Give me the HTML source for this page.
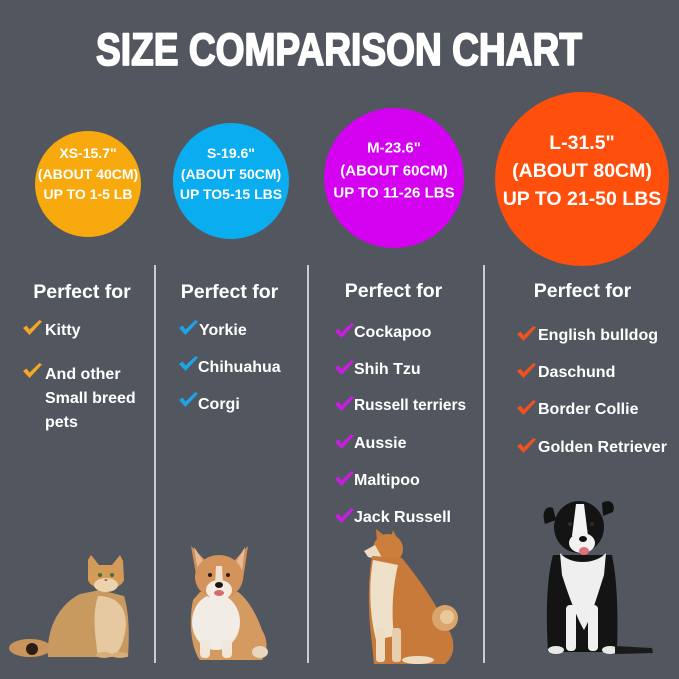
<!DOCTYPE html>
<html>
<head>
<meta charset="utf-8">
<style>
  html,body{margin:0;padding:0;background:#52575f;}
  svg{display:block;}
  text{font-family:"Liberation Sans",Arial,sans-serif;}
</style>
</head>
<body>
<svg width="679" height="679" viewBox="0 0 679 679" xmlns="http://www.w3.org/2000/svg">
  <defs>
    <path id="chk" d="M0,8 L3.5,5.5 L6.5,9.5 L16.5,0 L19,1.5 L6.5,15 Z"/>
  </defs>
  <rect width="679" height="679" fill="#52575f"/>

  <!-- Title -->
  <text x="96" y="65" font-size="45" font-weight="bold" fill="#ffffff" stroke="#ffffff" stroke-width="1.8" stroke-linejoin="round" textLength="486" lengthAdjust="spacingAndGlyphs">SIZE COMPARISON CHART</text>

  <!-- Circles -->
  <circle cx="88" cy="184" r="53" fill="#f7a90e"/>
  <circle cx="231" cy="181" r="58" fill="#0badf1"/>
  <circle cx="394" cy="178" r="70" fill="#d402f0"/>
  <circle cx="582" cy="179" r="87" fill="#fe4f0d"/>

  <g fill="#ffffff" font-weight="bold" text-anchor="middle">
    <text x="88" y="158" font-size="14">XS-15.7"</text>
    <text x="88" y="179" font-size="14">(ABOUT 40CM)</text>
    <text x="88" y="199" font-size="14">UP TO 1-5 LB</text>

    <text x="231" y="158" font-size="14">S-19.6"</text>
    <text x="231" y="179" font-size="14">(ABOUT 50CM)</text>
    <text x="231" y="199" font-size="14">UP TO5-15 LBS</text>

    <text x="394" y="152.5" font-size="15">M-23.6"</text>
    <text x="394" y="175.5" font-size="15">(ABOUT 60CM)</text>
    <text x="394" y="197.5" font-size="15">UP TO 11-26 LBS</text>

    <text x="582" y="149" font-size="19.5">L-31.5"</text>
    <text x="582" y="177" font-size="19.5">(ABOUT 80CM)</text>
    <text x="582" y="205" font-size="19.5">UP TO 21-50 LBS</text>
  </g>

  <!-- Dividers -->
  <g stroke="#c9ccd1" stroke-width="2">
    <line x1="155" y1="265" x2="155" y2="663"/>
    <line x1="308" y1="265" x2="308" y2="663"/>
    <line x1="484" y1="265" x2="484" y2="663"/>
  </g>

  <!-- Headings -->
  <g fill="#ffffff" font-weight="bold" font-size="19.5" text-anchor="middle">
    <text x="82" y="298">Perfect for</text>
    <text x="229.5" y="298">Perfect for</text>
    <text x="393.5" y="297">Perfect for</text>
    <text x="582.5" y="297">Perfect for</text>
  </g>

  <!-- Column 1 -->
  <g fill="#f5a623">
    <use href="#chk" x="23" y="320"/>
    <use href="#chk" x="23" y="363"/>
  </g>
  <g fill="#ffffff" font-weight="bold" font-size="16">
    <text x="45" y="335">Kitty</text>
    <text x="45" y="379">And other</text>
    <text x="45" y="403">Small breed</text>
    <text x="45" y="427">pets</text>
  </g>

  <!-- Column 2 -->
  <g fill="#1ea3e6">
    <use href="#chk" x="179" y="320"/>
    <use href="#chk" x="179" y="356"/>
    <use href="#chk" x="179" y="392"/>
  </g>
  <g fill="#ffffff" font-weight="bold" font-size="16">
    <text x="199" y="335">Yorkie</text>
    <text x="198" y="372">Chihuahua</text>
    <text x="198" y="409">Corgi</text>
  </g>

  <!-- Column 3 -->
  <g fill="#c81de0">
    <use href="#chk" x="335" y="323"/>
    <use href="#chk" x="335" y="360"/>
    <use href="#chk" x="335" y="396"/>
    <use href="#chk" x="335" y="434"/>
    <use href="#chk" x="335" y="471"/>
    <use href="#chk" x="335" y="508"/>
  </g>
  <g fill="#ffffff" font-weight="bold" font-size="16">
    <text x="354" y="337">Cockapoo</text>
    <text x="354" y="374">Shih Tzu</text>
    <text x="354" y="410" textLength="112" lengthAdjust="spacingAndGlyphs">Russell terriers</text>
    <text x="354" y="448">Aussie</text>
    <text x="354" y="485">Maltipoo</text>
    <text x="354" y="522">Jack Russell</text>
  </g>

  <!-- Column 4 -->
  <g fill="#f0521f">
    <use href="#chk" x="517" y="326"/>
    <use href="#chk" x="517" y="363"/>
    <use href="#chk" x="517" y="400"/>
    <use href="#chk" x="517" y="438"/>
  </g>
  <g fill="#ffffff" font-weight="bold" font-size="16">
    <text x="538" y="340">English bulldog</text>
    <text x="538" y="377">Daschund</text>
    <text x="538" y="414">Border Collie</text>
    <text x="538" y="452">Golden Retriever</text>
  </g>

  <!-- Cat -->
  <g>
    <ellipse cx="30" cy="648" rx="21" ry="9" fill="#c9955c"/>
    <ellipse cx="32" cy="649" rx="6" ry="6" fill="#2a1d14"/>
    <path d="M48,657 C46,630 58,605 80,594 L100,590 L124,596 C130,615 129,640 128,657 Z" fill="#c99a60"/>
    <path d="M98,596 C115,596 126,605 126,625 C124,645 118,655 110,657 L98,657 C95,635 92,615 98,596 Z" fill="#e6c9a0"/>
    <path d="M88,560 L91,555 L99,565 L112,565 L120,555 L123,561 L124,580 C120,592 92,592 88,580 Z" fill="#d49a58"/>
    <ellipse cx="106" cy="585" rx="12" ry="7" fill="#ecd3ad"/>
    <ellipse cx="100" cy="575" rx="2.2" ry="2" fill="#4d6b3a"/>
    <ellipse cx="112" cy="575" rx="2.2" ry="2" fill="#4d6b3a"/>
    <ellipse cx="106" cy="580" rx="1.5" ry="1" fill="#a0685a"/>
    <ellipse cx="104" cy="655" rx="8" ry="3" fill="#d6ae7c"/>
    <ellipse cx="120" cy="655" rx="8" ry="3" fill="#d6ae7c"/>
  </g>

  <!-- Corgi -->
  <g>
    <path d="M191,546 L208,563 L197,580 Z" fill="#d08f55"/>
    <path d="M248,546 L232,563 L243,580 Z" fill="#d08f55"/>
    <path d="M194,547 L204,562 L198,572 Z" fill="#e8b994"/>
    <path d="M245,547 L236,562 L242,572 Z" fill="#e8b994"/>
    <path d="M193,600 C188,625 192,650 200,660 L262,660 C268,650 268,640 262,630 C255,610 246,598 238,592 L200,592 Z" fill="#d59a60"/>
    <ellipse cx="216" cy="622" rx="24" ry="28" fill="#f1ece5"/>
    <ellipse cx="219" cy="577" rx="24" ry="22" fill="#d4935a"/>
    <ellipse cx="219" cy="590" rx="13" ry="10" fill="#f3ece3"/>
    <path d="M216,566 L222,566 L223,585 L215,585 Z" fill="#f0e2d0"/>
    <ellipse cx="219" cy="585" rx="4" ry="3" fill="#1a1410"/>
    <ellipse cx="219" cy="593" rx="5" ry="3" fill="#d66a6e"/>
    <circle cx="210" cy="575" r="2" fill="#2a1b12"/>
    <circle cx="228" cy="575" r="2" fill="#2a1b12"/>
    <rect x="200" y="640" width="10" height="18" rx="4" fill="#f0e6da"/>
    <rect x="222" y="640" width="10" height="18" rx="4" fill="#f0e6da"/>
    <ellipse cx="260" cy="652" rx="8" ry="6" fill="#e9d6c0"/>
  </g>

  <!-- Shiba -->
  <g>
    <path d="M377,542 L376,529 L386,537 Z" fill="#c9793a"/>
    <path d="M390,540 L393,530 L400,544 Z" fill="#c9793a"/>
    <ellipse cx="388" cy="549" rx="15" ry="15" fill="#cc7e3c"/>
    <path d="M375,545 L364,551 L368,557 L384,561 Z" fill="#ecdcc3"/>
    <path d="M372,556 C368,580 368,610 371,635 L374,664 L445,664 C456,655 456,640 446,625 C434,600 418,578 402,558 Z" fill="#c87a3a"/>
    <path d="M373,560 C369,582 369,612 376,640 L394,636 C391,612 393,585 398,565 Z" fill="#efe1c9"/>
    <circle cx="445" cy="618" r="13" fill="#d9a56a"/>
    <circle cx="447" cy="617" r="7" fill="#e9c99a"/>
    <rect x="376" y="628" width="9" height="34" rx="3" fill="#eddcc2"/>
    <rect x="392" y="628" width="9" height="34" rx="3" fill="#e7cfae"/>
    <ellipse cx="418" cy="660" rx="16" ry="4" fill="#eedcc0"/>
  </g>

  <!-- Border collie -->
  <g>
    <path d="M553,508 C546,505 541,512 545,524 L556,520 Z" fill="#121212"/>
    <path d="M602,503 C610,498 616,504 613,512 L603,516 Z" fill="#121212"/>
    <ellipse cx="579" cy="527" rx="25" ry="26" fill="#141414"/>
    <path d="M576,504 L584,504 L588,536 L572,536 Z" fill="#f4f4f4"/>
    <ellipse cx="582" cy="543" rx="13" ry="10" fill="#f2f2f2"/>
    <ellipse cx="583" cy="539" rx="4" ry="3" fill="#111"/>
    <ellipse cx="584" cy="551" rx="5" ry="4" fill="#e0707a"/>
    <circle cx="570" cy="524" r="2" fill="#3a2a1a"/>
    <circle cx="592" cy="524" r="2" fill="#3a2a1a"/>
    <path d="M553,555 C546,580 546,620 548,652 L617,652 C618,620 618,585 612,555 Z" fill="#141414"/>
    <path d="M560,553 C570,565 595,565 606,553 L604,575 C596,600 590,620 584,630 C578,620 570,600 562,575 Z" fill="#efefef"/>
    <rect x="566" y="605" width="10" height="46" rx="4" fill="#f0f0f0"/>
    <rect x="588" y="605" width="10" height="46" rx="4" fill="#f0f0f0"/>
    <ellipse cx="556" cy="650" rx="8" ry="4" fill="#e8e8e8"/>
    <ellipse cx="610" cy="650" rx="8" ry="4" fill="#e8e8e8"/>
    <path d="M615,646 L652,648 L653,653 L615,654 Z" fill="#1a1a1a"/>
  </g>
</svg>
</body>
</html>
